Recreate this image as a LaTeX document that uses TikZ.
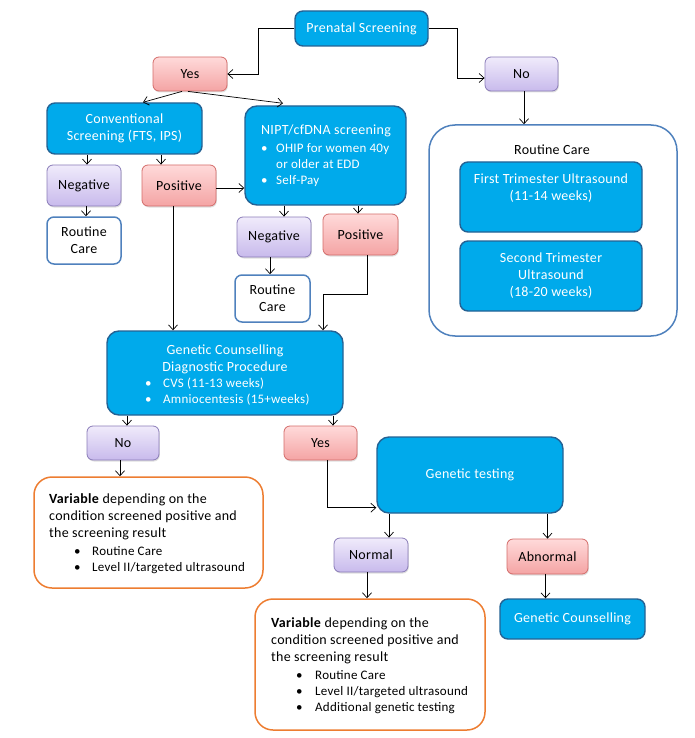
\documentclass[tikz,border=0pt]{standalone}
\usepackage{fontspec}
\setmainfont{Carlito}[LetterSpace=2]
\usetikzlibrary{arrows.meta,shadows,calc}
\definecolor{bfill}{RGB}{0,170,235}
\definecolor{bdraw}{RGB}{36,98,148}
\definecolor{pinktop}{RGB}{255,218,218}
\definecolor{pinkbot}{RGB}{244,164,164}
\definecolor{pinkdraw}{RGB}{212,108,106}
\definecolor{purptop}{RGB}{240,235,251}
\definecolor{purpbot}{RGB}{200,186,236}
\definecolor{purpdraw}{RGB}{138,124,184}
\definecolor{wdraw}{RGB}{79,129,189}
\definecolor{odraw}{RGB}{237,125,49}
\tikzset{
  base/.style={font=\fontsize{14}{17}\selectfont, align=center, inner sep=2pt},
  bluebox/.style={base, fill=bfill, draw=bdraw, line width=1.4pt, rounded corners=8pt, text=white},
  softshadow/.style={drop shadow={shadow xshift=0.8pt, shadow yshift=-1.5pt, opacity=0.25}},
  pinkbox/.style={base, softshadow, top color=pinktop, bottom color=pinkbot, draw=pinkdraw, line width=0.8pt, rounded corners=6pt},
  purpbox/.style={base, softshadow, top color=purptop, bottom color=purpbot, draw=purpdraw, line width=0.8pt, rounded corners=6pt},
  whitebox/.style={base, fill=white, draw=wdraw, line width=1.5pt, rounded corners=7pt},
  orangebox/.style={base, fill=white, draw=odraw, line width=1.5pt, rounded corners=18pt},
  txt/.style={font=\fontsize{14}{17}\selectfont, inner sep=0pt},
  bul/.style={font=\fontsize{13}{16}\selectfont, inner sep=0pt},
  arr/.style={-{Straight Barb[length=5pt,width=9pt]}, line width=0.7pt},
}
\newcommand{\bx}[1]{\makebox[#1][l]{\textbullet}}
\begin{document}
\begin{tikzpicture}[x=1pt,y=-1pt]
\useasboundingbox (0,0) rectangle (695,738);

% top
\node[bluebox, minimum width=133pt, minimum height=35pt] (ps) at (361.5,28.5) {Prenatal Screening};
\node[pinkbox, minimum width=74pt, minimum height=34pt] (yes1) at (190,74) {Yes};
\node[purpbox, minimum width=73pt, minimum height=34pt] (no1) at (521.5,74) {No};

% routine care (right)
\node[whitebox, rounded corners=26pt, minimum width=248pt, minimum height=211pt] (rcbig) at (553,230.5) {};
\node[txt, text=black] (rctitle) at (552,150) {Routine Care};
\node[bluebox, minimum width=182pt, minimum height=70pt] (ft) at (551,197) {};
\node[txt, text=white, align=center] (fttext) at (551,188.5) {First Trimester Ultrasound\\(11-14 weeks)};
\node[bluebox, minimum width=182pt, minimum height=70pt] (st) at (551,276) {Second Trimester\\Ultrasound\\(18-20 weeks)};

% conventional / NIPT
\node[bluebox, minimum width=155pt, minimum height=51pt] (conv) at (124.5,128.5) {Conventional\\Screening (FTS, IPS)};
\node[bluebox, rounded corners=12pt, minimum width=161pt, minimum height=99pt] (nipt) at (325.5,155.5) {};
\node[txt, text=white] (nipttitle) at (326,131) {NIPT/cfDNA screening};
\node[bul, text=white, anchor=west] (niptlist) at (261,165) {\begin{tabular}{@{}l@{}l@{}}\bx{15pt}&OHIP for women 40y\\ &or older at EDD\\ \bx{15pt}&Self-Pay\end{tabular}};

\node[purpbox, minimum width=74pt, minimum height=41pt] (neg1) at (84,185.5) {Negative};
\node[pinkbox, minimum width=74pt, minimum height=41pt] (pos1) at (179,185.5) {Positive};
\node[whitebox, minimum width=74pt, minimum height=47pt] (rc1) at (84,240.5) {Routine\\Care};
\node[purpbox, minimum width=74pt, minimum height=40pt] (neg2) at (274,237) {Negative};
\node[pinkbox, minimum width=75pt, minimum height=41pt] (pos2) at (360.5,234.5) {Positive};
\node[whitebox, minimum width=75pt, minimum height=47pt] (rc2) at (272.5,298.5) {Routine\\Care};

% genetic counselling / diagnostic
\node[bluebox, rounded corners=12pt, minimum width=236pt, minimum height=84pt] (gc) at (225,373) {};
\node[txt, text=white, align=center] (gctitle) at (225,359) {Genetic Counselling\\Diagnostic Procedure};
\node[bul, text=white, anchor=west] (gclist) at (145,392.5) {\begin{tabular}{@{}l@{}l@{}}\bx{18pt}&CVS (11-13 weeks)\\ \bx{18pt}&Amniocentesis (15+weeks)\end{tabular}};

\node[purpbox, minimum width=72pt, minimum height=34pt] (no2) at (123,443) {No};
\node[pinkbox, minimum width=73pt, minimum height=34pt] (yes2) at (320.5,443) {Yes};

\node[orangebox, minimum width=229pt, minimum height=111pt] (var1) at (148.5,532.5) {};
\node[txt, anchor=west, align=left] (var1text) at (49,517) {\textbf{Variable} depending on the\\condition screened positive and\\the screening result};
\node[bul, anchor=west] (var1list) at (74,560) {\begin{tabular}{@{}l@{}l@{}}\bx{18pt}&Routine Care\\ \bx{18pt}&Level II/targeted ultrasound\end{tabular}};

\node[bluebox, rounded corners=12pt, minimum width=186pt, minimum height=76pt] (gt) at (470,475) {Genetic testing};
\node[purpbox, minimum width=74pt, minimum height=34pt] (normal) at (371,555) {Normal};
\node[pinkbox, minimum width=81pt, minimum height=35pt] (abn) at (547.5,556.5) {Abnormal};

\node[orangebox, minimum width=230pt, minimum height=131pt] (var2) at (370,664.5) {};
\node[txt, anchor=west, align=left] (var2text) at (271,640.5) {\textbf{Variable} depending on the\\condition screened positive and\\the screening result};
\node[bul, anchor=west] (var2list) at (296,692) {\begin{tabular}{@{}l@{}l@{}}\bx{19pt}&Routine Care\\ \bx{19pt}&Level II/targeted ultrasound\\ \bx{19pt}&Additional genetic testing\end{tabular}};

\node[bluebox, minimum width=145pt, minimum height=40pt] (gc2) at (572.5,619) {Genetic Counselling};

% connectors
\draw[arr] (ps.west) -- ++(-36,0) |- (yes1.east);
\draw[arr] (ps.east) -- ++(29,0) |- ([yshift=-4pt]no1.west);
\draw[arr] ([xshift=2.5pt]no1.south) -- ([xshift=2.5pt]no1.south |- rcbig.north);
\draw[arr] ([xshift=-8pt]yes1.south) -- ([xshift=18.5pt]conv.north);
\draw[arr] ([xshift=-2pt]yes1.south) -- ([xshift=-42.5pt,yshift=2pt]nipt.north);
\draw[arr] ([xshift=3pt]neg1.north |- conv.south) -- ([xshift=3pt]neg1.north);
\draw[arr] ([xshift=-18pt]pos1.north |- conv.south) -- ([xshift=-18pt]pos1.north);
\draw[arr] ([xshift=2pt]neg1.south) -- ([xshift=2pt]rc1.north);
\draw[arr] ([yshift=-2.5pt]pos1.east) -- ([yshift=-2.5pt]pos1.east -| nipt.west);
\draw[arr] ([xshift=-6pt]pos1.south) -- ([xshift=-6pt]pos1.south |- gc.north);
\draw[arr] ([xshift=10pt]neg2.north |- nipt.south) -- ([xshift=10pt]neg2.north);
\draw[arr] ([xshift=-2.5pt]pos2.north |- nipt.south) -- ([xshift=-2.5pt]pos2.north);
\draw[arr] ([xshift=-2.5pt]rc2.north |- neg2.south) -- ([xshift=-2.5pt]rc2.north);
\draw[arr] ([xshift=6.5pt]pos2.south) -- ++(0,38.5) -| ([xshift=98pt]gc.north);
\draw[arr] ([xshift=4pt]no2.north |- gc.south) -- ([xshift=4pt]no2.north);
\draw[arr] ([xshift=-3pt]no2.south) -- ([xshift=-3pt]no2.south |- var1.north);
\draw[arr] ([xshift=12.5pt]yes2.north |- gc.south) -- ([xshift=12.5pt]yes2.north);
\draw[arr] ([xshift=6.5pt]yes2.south) |- ($(gt.south west)+(0,-6)$);
\draw[arr] ([xshift=18pt]normal.north |- gt.south) -- ([xshift=18pt]normal.north);
\draw[arr] (abn.north |- gt.south) -- (abn.north);
\draw[arr] ([xshift=-4pt]normal.south) -- ([xshift=-4pt]normal.south |- var2.north);
\draw[arr] ([xshift=-2pt]abn.south) -- ([xshift=-2pt]abn.south |- gc2.north);
\end{tikzpicture}
\end{document}
